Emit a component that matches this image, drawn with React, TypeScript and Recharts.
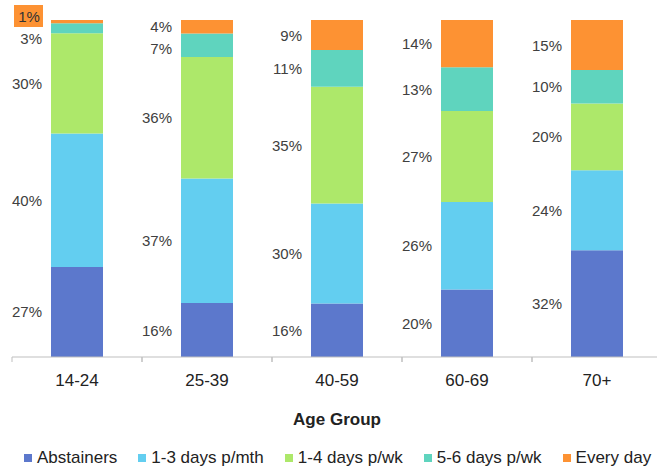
import React from 'react';
import { BarChart, Bar, XAxis, YAxis, Legend, LabelList } from 'recharts';

const categories = ['14-24', '25-39', '40-59', '60-69', '70+'];
const abstainers = [27, 16, 16, 20, 32];
const daysPerMonth = [40, 37, 30, 26, 24];
const daysPerWeek14 = [30, 36, 35, 27, 20];
const daysPerWeek56 = [3, 7, 11, 13, 10];
const everyDay = [1, 4, 9, 14, 15];

const seriesNames = ['Abstainers', '1-3 days p/mth', '1-4 days p/wk', '5-6 days p/wk', 'Every day'];
const seriesKeys = ['abstainers', 'perMonth', 'perWeek14', 'perWeek56', 'everyDay'];
const seriesColors = ['#5c78cc', '#63cef0', '#ade86a', '#5fd4be', '#fd9233'];

const data = categories.map((c, i) => ({
  group: c,
  abstainers: abstainers[i],
  perMonth: daysPerMonth[i],
  perWeek14: daysPerWeek14[i],
  perWeek56: daysPerWeek56[i],
  everyDay: everyDay[i],
}));

const FONT = 'Liberation Sans, Arial, sans-serif';

const makeLabel = (seriesIndex: number) => (props: any) => {
  const { x, y, height, value } = props;
  const xr = Number(x) - 9;
  const h = Number(height);
  const top = Number(y);
  let cy = top + h / 2;
  if (seriesIndex === 3) cy = Math.max(cy, top + 15);
  if (seriesIndex === 4 && h < 6) {
    cy = top - 4;
    return (
      <g>
        <rect x={xr - 28} y={cy - 11} width={29} height={22} fill={seriesColors[4]} />
        <text x={xr - 13} y={cy} textAnchor="middle" dominantBaseline="central" fontSize={15} fontFamily={FONT} fill="#333">
          {value}%
        </text>
      </g>
    );
  }
  return (
    <text x={xr} y={cy} textAnchor="end" dominantBaseline="central" fontSize={15} fontFamily={FONT} fill="#404040">
      {value}%
    </text>
  );
};

const CategoryTick = (props: any) => {
  const { x, y, payload } = props;
  const half = payload && payload.offset ? payload.offset : 65;
  return (
    <g>
      <line x1={x - half} y1={357} x2={x - half} y2={362} stroke="#bfbfbf" strokeWidth={1} />
      <line x1={x + half} y1={357} x2={x + half} y2={362} stroke="#bfbfbf" strokeWidth={1} />
      <text x={x} y={y + 21} textAnchor="middle" fontSize={17} fontFamily={FONT} fill="#222">
        {payload.value}
      </text>
    </g>
  );
};

const LegendContent = () => (
  <div style={{ display: 'flex', justifyContent: 'flex-start', paddingLeft: 12, paddingTop: 8, fontFamily: FONT, fontSize: 17, color: '#222', lineHeight: '20px' }}>
    {seriesNames.map((n, i) => (
      <div key={n} style={{ display: 'flex', alignItems: 'center', marginRight: 21, whiteSpace: 'nowrap' }}>
        <span style={{ display: 'inline-block', width: 8, height: 8, background: seriesColors[i], marginRight: 5 }} />
        <span>{n}</span>
      </div>
    ))}
  </div>
);

export default function App() {
  return (
    <div style={{ position: 'absolute', left: 0, top: 0, width: 657, height: 470, overflow: 'hidden', background: '#fff' }}>
      <BarChart
        width={662}
        height={470}
        data={data}
        stackOffset="expand"
        margin={{ top: 20, right: 0, bottom: 0, left: 12 }}
        barSize={52}
      >
        <YAxis hide domain={[0, 1]} />
        <XAxis
          dataKey="group"
          height={83}
          axisLine={{ stroke: '#bfbfbf' }}
          tickLine={false}
          tick={<CategoryTick />}
          label={{ value: 'Age Group', position: 'insideBottom', offset: 15, fontSize: 17, fontWeight: 'bold', fontFamily: FONT, fill: '#222' }}
        />
        <Legend verticalAlign="bottom" height={30} content={<LegendContent />} />
        {seriesKeys.map((k, i) => (
          <Bar key={k} dataKey={k} name={seriesNames[i]} stackId="a" fill={seriesColors[i]} isAnimationActive={false}>
            <LabelList dataKey={k} content={makeLabel(i)} />
          </Bar>
        ))}
      </BarChart>
    </div>
  );
}
